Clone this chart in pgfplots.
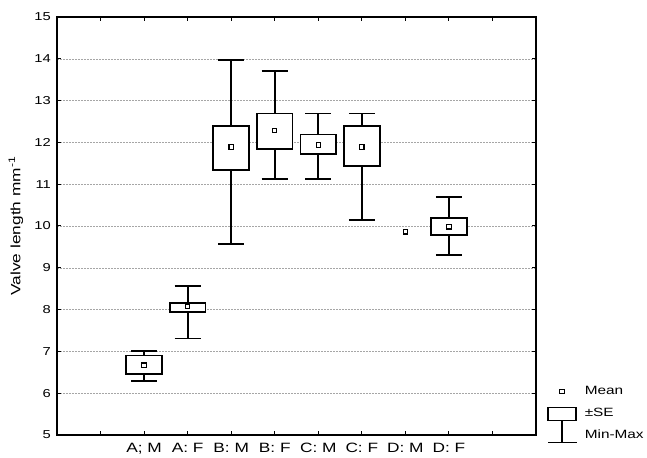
\documentclass[border=0pt]{standalone}
\usepackage{pgfplots}
\pgfplotsset{compat=1.18}
\usepgfplotslibrary{statistics}
\usepackage{fontspec}
\setmainfont{Liberation Sans}[FakeStretch=1.28]
\begin{document}
\begin{tikzpicture}
\begin{axis}[
  scale only axis,
  width=479bp, height=418bp,
  xmin=0, xmax=11, ymin=5, ymax=15,
  xtick={1,...,10},
  xticklabels={{},{A; M},{A: F},{B: M},{B: F},{C: M},{C: F},{D: M},{D: F},{}},
  ytick={5,...,15},
  xtick pos=both, ytick pos=both,
  xticklabel pos=lower, yticklabel pos=left,
  tick align=inside,
  major tick length=4bp,
  tick style={black, line width=1bp},
  axis line style={black, line width=1.4bp},
  ymajorgrids,
  major grid style={gray!70, dash pattern=on 2bp off 1bp, line width=0.5bp},
  /pgf/number format/assume math mode=true,
  ticklabel style={font=\fontsize{11.5bp}{13bp}\selectfont},
  yticklabel style={inner sep=0pt, xshift=-6bp},
  xticklabel style={inner sep=0pt, yshift=-8bp, font=\fontsize{13.5bp}{15bp}\selectfont},
  ylabel={Valve length mm\textsuperscript{-1}},
  every axis y label/.style={at={([xshift=-41bp]rel axis cs:0,0.5)}, rotate=90, anchor=center, font=\fontsize{13.5bp}{15bp}\selectfont},
  boxplot/draw direction=y,
  boxplot/draw/median/.code={},
  boxplot/box extend=0.82,
  boxplot/whisker extend=0.6,
  boxplot/every box/.style={draw=black, line width=1.8bp, fill=white},
  boxplot/every whisker/.style={draw=black, line width=1.8bp},
  legend style={at={(rel axis cs:1,0)}, anchor=south west, xshift=11bp, yshift=-11.5bp,
    draw=none, fill=none, inner sep=0pt, row sep=0pt, column sep=6bp,
    font=\fontsize{12bp}{14bp}\selectfont},
  legend cell align=left,
]
\addplot[forget plot, black, line width=1.8bp, boxplot prepared={draw position=2, lower whisker=6.29, lower quartile=6.45, median=6.67, upper quartile=6.90, upper whisker=7.01}] coordinates {};
\addplot[forget plot, black, line width=1.8bp, boxplot prepared={draw position=3, lower whisker=7.31, lower quartile=7.94, median=8.07, upper quartile=8.16, upper whisker=8.57}] coordinates {};
\addplot[forget plot, black, line width=1.8bp, boxplot prepared={draw position=4, lower whisker=9.57, lower quartile=11.34, median=11.89, upper quartile=12.40, upper whisker=13.98}] coordinates {};
\addplot[forget plot, black, line width=1.8bp, boxplot prepared={draw position=5, lower whisker=11.12, lower quartile=11.85, median=12.28, upper quartile=12.69, upper whisker=13.71}] coordinates {};
\addplot[forget plot, black, line width=1.8bp, boxplot prepared={draw position=6, lower whisker=11.12, lower quartile=11.72, median=11.94, upper quartile=12.19, upper whisker=12.69}] coordinates {};
\addplot[forget plot, black, line width=1.8bp, boxplot prepared={draw position=7, lower whisker=10.14, lower quartile=11.43, median=11.89, upper quartile=12.40, upper whisker=12.69}] coordinates {};
\addplot[forget plot, black, line width=1.8bp, boxplot prepared={draw position=9, lower whisker=9.31, lower quartile=9.78, median=9.98, upper quartile=10.20, upper whisker=10.70}] coordinates {};
\addplot[forget plot, only marks, mark=square*, mark size=2.2bp, mark options={fill=white, draw=black, line width=1.1bp, solid}]
  coordinates {(2,6.67) (3,8.07) (4,11.89) (5,12.28) (6,11.94) (7,11.89) (8,9.86) (9,9.98)};
\addlegendimage{legend image code/.code={
  \path[draw=none, fill=none] (0bp,-11bp) rectangle (28bp,11bp);
  \draw[black, line width=1.1bp, fill=white] (11.8bp,-2.2bp) rectangle (16.2bp,2.2bp);}}
\addlegendentry{Mean}
\addlegendimage{legend image code/.code={
  \path[draw=none, fill=none] (0bp,-11bp) rectangle (28bp,11bp);
  \draw[black, line width=1.6bp, fill=none] (0bp,-7bp) rectangle (28bp,6bp);}}
\addlegendentry{±SE}
\addlegendimage{legend image code/.code={
  \path[draw=none, fill=none] (0bp,-11bp) rectangle (28bp,11bp);
  \draw[overlay, black, line width=1.6bp] (14bp,15bp) -- (14bp,-7bp) (0bp,-7bp) -- (29bp,-7bp);}}
\addlegendentry{Min-Max}
\end{axis}
\pgfresetboundingbox
\path[use as bounding box] ([shift={(-57bp,-23bp)}]current axis.south west) rectangle ([shift={(111bp,17bp)}]current axis.north east);
\end{tikzpicture}
\end{document}
